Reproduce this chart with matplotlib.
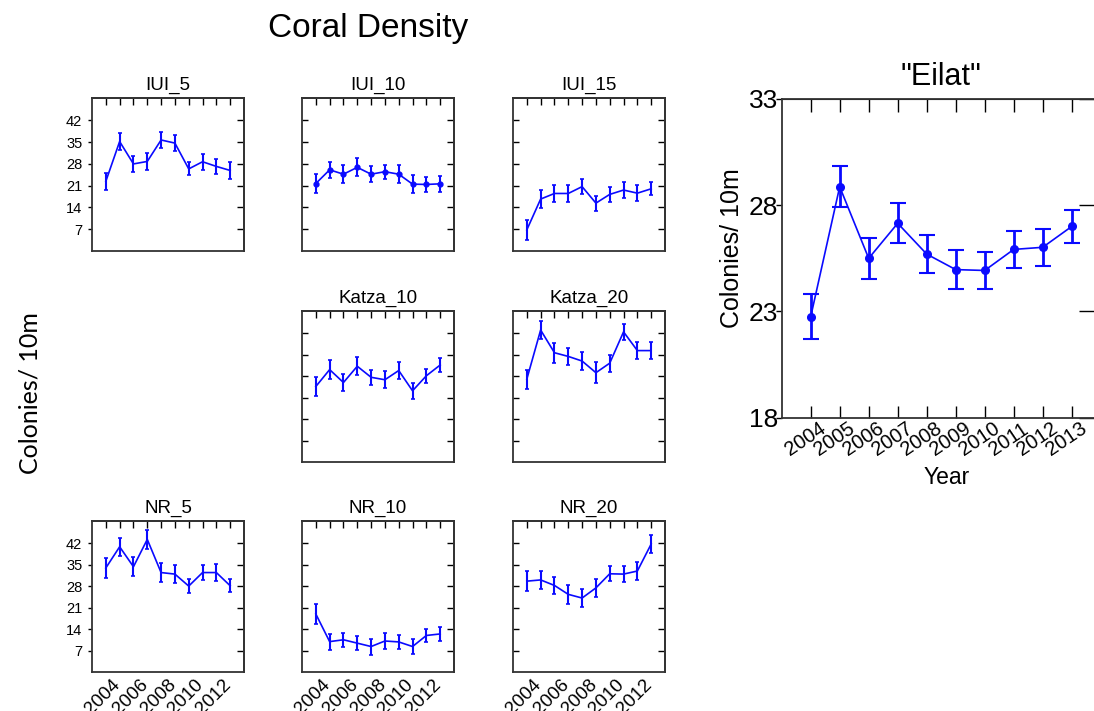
import matplotlib
matplotlib.use("Agg")
import matplotlib.pyplot as plt
from matplotlib.transforms import ScaledTranslation
import numpy as np

years = [2004, 2005, 2006, 2007, 2008, 2009, 2010, 2011, 2012, 2013]
small_yticks = [7, 14, 21, 28, 35, 42]

iui5_mean = [22.4, 35.2, 28.0, 28.8, 35.7, 34.7, 26.4, 28.7, 27.2, 25.9]
iui5_err = [2.8, 2.7, 2.5, 2.6, 2.7, 2.5, 2.1, 2.5, 2.5, 2.7]
iui10_mean = [21.7, 26.1, 24.7, 26.9, 24.7, 25.5, 24.7, 21.5, 21.4, 21.6]
iui10_err = [3.0, 2.6, 2.8, 2.9, 2.6, 2.3, 2.9, 3.0, 2.5, 2.6]
iui15_mean = [6.8, 16.7, 18.5, 18.5, 20.7, 15.4, 18.2, 19.6, 18.6, 20.0]
iui15_err = [3.2, 2.8, 2.8, 2.8, 2.4, 2.4, 2.5, 2.5, 2.6, 2.1]
katza10_mean = [24.6, 30.1, 25.9, 31.2, 27.6, 26.8, 29.8, 23.2, 28.1, 31.6]
katza10_err = [3.0, 3.0, 2.7, 3.0, 2.5, 2.7, 2.9, 2.6, 2.2, 2.2]
katza20_mean = [27.0, 43.0, 35.6, 34.4, 32.9, 29.1, 32.2, 42.4, 36.3, 36.3]
katza20_err = [3.1, 2.9, 3.2, 2.9, 2.9, 3.4, 2.8, 2.7, 2.8, 2.8]
nr5_mean = [33.9, 40.8, 34.3, 43.2, 32.4, 31.9, 28.0, 32.4, 32.4, 28.1]
nr5_err = [3.2, 2.9, 3.1, 3.1, 3.0, 3.0, 2.3, 2.5, 2.7, 2.1]
nr10_mean = [18.9, 9.9, 10.5, 9.4, 8.3, 10.1, 9.8, 8.3, 11.9, 12.4]
nr10_err = [3.1, 2.6, 2.3, 2.3, 2.6, 2.6, 2.2, 2.3, 2.2, 2.3]
nr20_mean = [29.6, 30.0, 28.2, 25.3, 24.1, 27.4, 32.0, 31.9, 32.9, 41.7]
nr20_err = [3.2, 2.8, 2.9, 3.0, 2.8, 3.0, 2.5, 2.7, 3.0, 2.9]

eilat_mean = [22.75, 28.87, 25.5, 27.15, 25.7, 24.97, 24.93, 25.92, 26.02, 27.0]
eilat_err = [1.05, 0.97, 0.96, 0.95, 0.9, 0.9, 0.86, 0.86, 0.86, 0.78]
eilat_yticks = [18, 23, 28, 33]

FONT = ['Liberation Sans', 'DejaVu Sans']
plt.rcParams['font.family'] = FONT
BLUE = '#0a0aff'
SPINE = '#333333'

fig = plt.figure(figsize=(10.94, 7.11), dpi=100)
W, H = 1094.0, 711.0

def add_ax(left, top, right, bottom):
    return fig.add_axes([left / W, 1 - bottom / H, (right - left) / W, (bottom - top) / H])

def shift_labels(labels, dx_px, dy_px):
    off = ScaledTranslation(dx_px / 100.0, dy_px / 100.0, fig.dpi_scale_trans)
    for lab in labels:
        lab.set_transform(lab.get_transform() + off)

cols = [(92, 244), (302, 454), (513, 665)]
rows = [(98, 251), (311, 462), (521, 672)]

panels = [
    (0, 0, 'IUI_5', iui5_mean, iui5_err, False),
    (0, 1, 'IUI_10', iui10_mean, iui10_err, True),
    (0, 2, 'IUI_15', iui15_mean, iui15_err, False),
    (1, 1, 'Katza_10', katza10_mean, katza10_err, False),
    (1, 2, 'Katza_20', katza20_mean, katza20_err, False),
    (2, 0, 'NR_5', nr5_mean, nr5_err, False),
    (2, 1, 'NR_10', nr10_mean, nr10_err, False),
    (2, 2, 'NR_20', nr20_mean, nr20_err, False),
]

for r, c, name, mean, err, markers in panels:
    l, rr = cols[c]
    t, b = rows[r]
    ax = add_ax(l, t, rr, b)
    ax.errorbar(years, mean, yerr=err, color=BLUE, lw=1.2, elinewidth=1.5,
                capsize=1.5, capthick=1.2,
                marker='o' if markers else None, markersize=3.5)
    ax.set_xlim(2003, 2014)
    ax.set_ylim(0, 49.2)
    for s in ax.spines.values():
        s.set_color(SPINE)
        s.set_linewidth(1.3)
    ax.set_title(name, fontsize=13.5, pad=6)
    ax.set_yticks(small_yticks)
    if c == 0:
        ax.tick_params(axis='y', direction='out', length=3, width=1, labelsize=10.5, pad=4)
    else:
        ax.tick_params(axis='y', direction='in', length=4, width=1, labelleft=False)
    sy = ax.secondary_yaxis('right')
    sy.set_yticks(small_yticks)
    sy.tick_params(direction='in', length=5, width=1, labelright=False)
    sy.spines['right'].set_color(SPINE)
    sy.spines['right'].set_linewidth(1.3)
    sx = ax.secondary_xaxis('top')
    sx.set_xticks(years)
    sx.tick_params(direction='in', length=5, width=1, labeltop=False)
    sx.spines['top'].set_color(SPINE)
    sx.spines['top'].set_linewidth(1.3)
    ax.set_xticks(years)
    if r == 2:
        labels = [str(y) if i % 2 == 0 else '' for i, y in enumerate(years)]
        ax.set_xticklabels(labels, rotation=45, ha='right', rotation_mode='anchor', fontsize=13.5)
        ax.tick_params(axis='x', length=0, pad=3)
        shift_labels(ax.get_xticklabels(), 6, 0)
    else:
        ax.tick_params(axis='x', length=0, labelbottom=False)

# Big Eilat panel
bx = add_ax(781.7, 99, 1100.7, 417.7)
bx.errorbar(years, eilat_mean, yerr=eilat_err, color=BLUE, lw=1.2, elinewidth=2,
            capsize=5.5, capthick=1.5, marker='o', markersize=5.5)
bx.set_xlim(2003, 2014)
bx.set_ylim(18, 33)
for s in bx.spines.values():
    s.set_color(SPINE)
    s.set_linewidth(1.3)
bx.set_yticks(eilat_yticks)
bx.tick_params(axis='y', direction='out', length=4, width=1, labelsize=19, pad=-1.5)
by2 = bx.secondary_yaxis('right')
by2.set_yticks(eilat_yticks)
by2.tick_params(direction='in', length=16, width=1, labelright=False)
bx2 = bx.secondary_xaxis('top')
bx2.set_xticks(years)
bx2.tick_params(direction='in', length=9, width=1, labeltop=False)
bx.set_xticks(years)
bx.set_xticklabels([str(y) for y in years], rotation=34, ha='right',
                   rotation_mode='anchor', fontsize=14.5)
bx.tick_params(axis='x', direction='in', length=9, width=1, pad=1)
shift_labels(bx.get_xticklabels(), 8, 0)
bx.set_title('"Eilat"', fontsize=22, pad=10)

fig.text(732 / W, 1 - 248 / H, 'Colonies/ 10m', rotation=90, fontsize=18,
         ha='center', va='center')
fig.text(947 / W, 1 - 477 / H, 'Year', fontsize=16.5, ha='center', va='center')

fig.text(368 / W, 1 - 28 / H, 'Coral Density', fontsize=24, ha='center', va='center')
fig.text(30 / W, 1 - 393 / H, 'Colonies/ 10m', rotation=90, fontsize=18,
         family=['Lato', 'DejaVu Sans'], ha='center', va='center')

fig.savefig('out.png', dpi=100)
